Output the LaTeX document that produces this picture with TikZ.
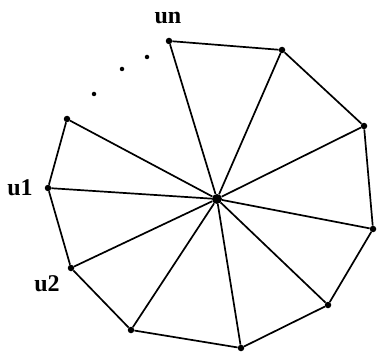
\documentclass[tikz,border=0pt]{standalone}
\usepackage{fontspec}
\setmainfont{Liberation Serif}
\begin{document}
\begin{tikzpicture}[x=1pt,y=-1pt,
  edge/.style={line width=1.7pt,black},
  vdot/.style={circle,fill=black,inner sep=0pt,minimum size=6.5pt},
  cdot/.style={circle,fill=black,inner sep=0pt,minimum size=10pt},
  sdot/.style={circle,fill=black,inner sep=0pt,minimum size=4.5pt},
  lbl/.style={font=\fontsize{24}{24}\selectfont\bfseries,inner sep=0pt}]
\useasboundingbox (0,0) rectangle (386,353);
\node[cdot] (c) at (217,199) {};
\node[vdot] (v1) at (169,41) {};
\node[vdot] (v2) at (282,50) {};
\node[vdot] (v3) at (364,126) {};
\node[vdot] (v4) at (373,229) {};
\node[vdot] (v5) at (328,305) {};
\node[vdot] (v6) at (241,348) {};
\node[vdot] (v7) at (131,330) {};
\node[vdot] (v8) at (71,268) {};
\node[vdot] (v9) at (48,188) {};
\node[vdot] (v10) at (67,119) {};
\node[sdot] (d1) at (94,94) {};
\node[sdot] (d2) at (122,69) {};
\node[sdot] (d3) at (147,57) {};
\node[lbl] (lun) at (168,18) {un};
\node[lbl] (lu1) at (20,188) {u1};
\node[lbl] (lu2) at (47,284) {u2};
\draw[edge] (v1) -- (v2) -- (v3) -- (v4) -- (v5) -- (v6) -- (v7) -- (v8) -- (v9) -- (v10);
\foreach \i in {1,...,10} { \draw[edge] (c) -- (v\i); }
\end{tikzpicture}
\end{document}
